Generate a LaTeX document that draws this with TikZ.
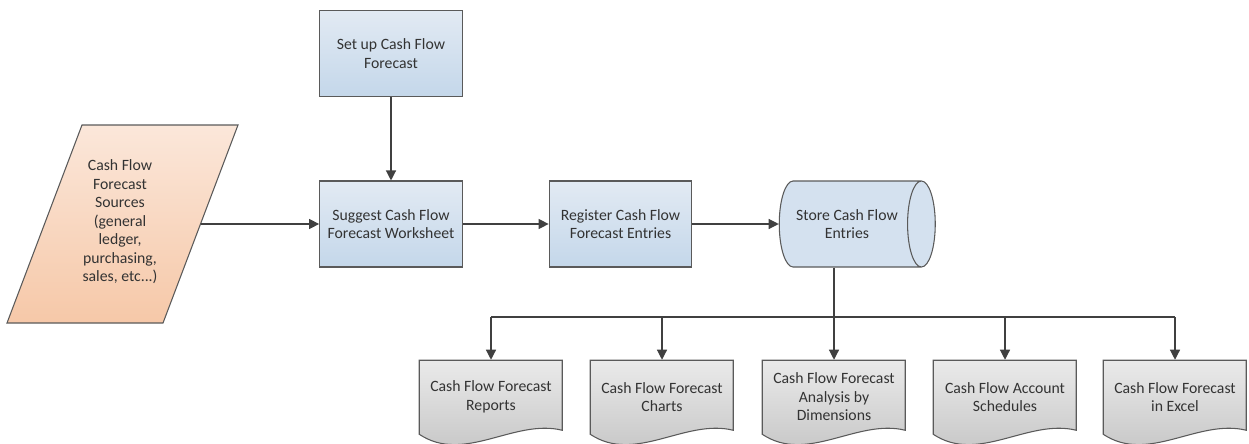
\documentclass[tikz,border=0pt]{standalone}
\usepackage{fontspec}
\setmainfont{Carlito}
\usepackage{tikz}
\usetikzlibrary{arrows.meta, calc, positioning, shapes.geometric, backgrounds}
\usepackage{xcolor}
\definecolor{edgeGray}{HTML}{5A5A5A}
\definecolor{arrGray}{HTML}{404040}
\definecolor{blueTop}{HTML}{E2EAF3}
\definecolor{blueBot}{HTML}{C4D7EA}
\definecolor{peachTop}{HTML}{FBE7DA}
\definecolor{peachBot}{HTML}{F6C8A8}
\definecolor{grayTop}{HTML}{EAEAEA}
\definecolor{grayBot}{HTML}{C2C2C2}

\begin{document}
\begin{tikzpicture}[x=0.75pt, y=-0.75pt,
    font=\fontsize{11.8}{13.9}\selectfont, text=black!80,
    box/.style={draw=edgeGray, line width=0.8pt, top color=blueTop, bottom color=blueBot,
        minimum width=107pt, minimum height=64.5pt, align=center},
    store/.style={draw=edgeGray, line width=0.8pt, cylinder, aspect=0.72,
        cylinder uses custom fill, cylinder body fill=blueTop!55!blueBot, cylinder end fill=blueTop!55!blueBot,
        minimum width=64.5pt, minimum height=117pt, align=center},
    source/.style={draw=edgeGray, line width=0.8pt, top color=peachTop, bottom color=peachBot},
    doc/.style={minimum width=107.25pt, minimum height=55.5pt, align=center},
    docshape/.style={draw=edgeGray, line width=0.8pt, top color=grayTop, bottom color=grayBot},
    line/.style={draw=arrGray, line width=0.9pt},
    arr/.style={line, -{Triangle[length=7.5pt, width=7.5pt]}}]
    \useasboundingbox (0,0) rectangle (1249,443);

    % 上方流程
    \node[align=center] (src) at (120, 222) {Cash Flow\\Forecast\\Sources\\(general\\ledger,\\purchasing,\\sales, etc...)};
    \node[box] (setup) at (391, 53.5) {Set up Cash Flow\\Forecast};
    \node[box] (suggest) at (391, 224) {Suggest Cash Flow\\Forecast Worksheet};
    \node[box] (register) at (620.5, 224) {Register Cash Flow\\Forecast Entries};
    \node[store] (store) at (847, 224) {Store Cash Flow\\Entries};

    % 输出文档
    \node[doc] (rep) at (491, 397) {Cash Flow Forecast\\Reports};
    \node[doc] (cha) at (662, 397) {Cash Flow Forecast\\Charts};
    \node[doc] (ana) at (834, 397) {Cash Flow Forecast\\Analysis by\\Dimensions};
    \node[doc] (acc) at (1005, 397) {Cash Flow Account\\Schedules};
    \node[doc] (exc) at (1175, 397) {Cash Flow Forecast\\in Excel};

    \begin{scope}[on background layer]
        \draw[source] (7,323) -- (82,125) -- (238,125) -- (163,323) -- cycle;
        \foreach \n in {rep,cha,ana,acc,exc}{
            \begin{scope}[shift={(\n.south west)}]
                \draw[docshape] (0,-74) -- (143,-74) -- (143,-4) .. controls (95,-16) and (45,30) .. (0,0) -- cycle;
            \end{scope}
        }
    \end{scope}

    % 连线
    \coordinate (srcR) at (200.5, 224);
    \draw[arr] (setup) -- (suggest);
    \draw[arr] (srcR) -- (suggest);
    \draw[arr] (suggest) -- (register);
    \draw[arr] (register) -- (store.west);

    \coordinate (bus) at (834, 317);
    \draw[line] (ana.north |- store.south) -- (bus);
    \draw[line] (rep.north |- bus) -- (exc.north |- bus);
    \foreach \n in {rep,cha,ana,acc,exc}
        \draw[arr] (\n.north |- bus) -- (\n.north);
\end{tikzpicture}
\end{document}
